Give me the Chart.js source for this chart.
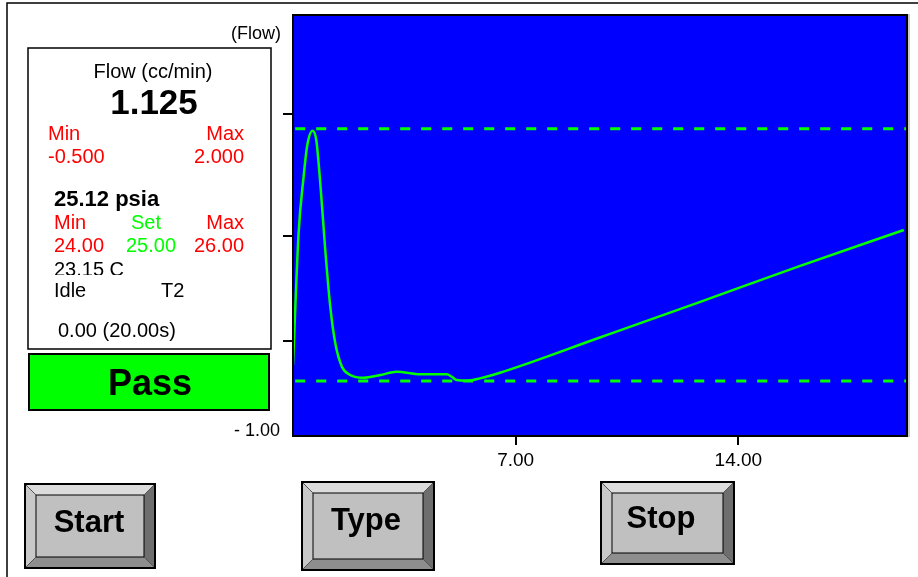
<!DOCTYPE html>
<html>
<head>
<meta charset="utf-8">
<script src="https://cdn.jsdelivr.net/npm/chart.js@4"></script>
<style>
  html, body { margin: 0; padding: 0; background: #fff; }
  canvas { display: block; }
</style>
</head>
<body>
<canvas id="flowChart" width="918" height="577" style="width:918px;height:577px"></canvas>
<script>
// flow trace (time in s, flow in cc/min)
const timeS = [0, 0.176, 0.333, 0.449, 0.615, 0.731, 0.857, 1.014, 1.171, 1.328, 1.538, 1.798,
  2.216, 2.740, 3.264, 3.996, 4.834, 4.991, 5.148, 5.461, 5.879, 6.507, 9.645, 12.78, 15.92, 19.20];
const flowCc = [-0.342, 0.966, 1.524, 1.838, 1.980, 1.888, 1.462, 0.798, 0.236, -0.124, -0.359, -0.441,
  -0.468, -0.441, -0.408, -0.434, -0.434, -0.458, -0.491, -0.498, -0.474, -0.418, -0.069, 0.282, 0.639, 0.996];

const flowMin = -0.5;
const flowMax = 2.0;
const limitSpan = [0.07, 19.3];

const xRange = [0, 19.3];
const xTickValues = [7, 14];
const yRange = [-1.045, 3.127];
const yTickValues = [-1.045, -0.104, 0.936, 2.145];
const yTickLabels = ["- 1.00", "", "", ""];

const flowReading = "1.125";
const pressureReading = "25.12 psia";
const pressureLimits = ["24.00", "25.00", "26.00"];
const buttonLabels = ["Start", "Type", "Stop"];

const FONT = "'Liberation Sans', Arial, sans-serif";

function txt(ctx, s, x, y, size, color, align, bold) {
  ctx.font = (bold ? "bold " : "") + size + "px " + FONT;
  ctx.fillStyle = color;
  ctx.textAlign = align || "left";
  ctx.textBaseline = "middle";
  ctx.fillText(s, x, y);
}

function poly(ctx, pts, fill) {
  ctx.beginPath();
  ctx.moveTo(pts[0][0], pts[0][1]);
  for (let i = 1; i < pts.length; i++) ctx.lineTo(pts[i][0], pts[i][1]);
  ctx.closePath();
  ctx.fillStyle = fill;
  ctx.fill();
}

function bevelButton(ctx, x0, y0, x1, y1, label, tx, ty) {
  const b = 11;
  poly(ctx, [[x0, y0], [x1, y0], [x1 - b, y0 + b], [x0 + b, y0 + b]], "#dcdcdc");
  poly(ctx, [[x0, y0], [x0 + b, y0 + b], [x0 + b, y1 - b], [x0, y1]], "#c8c8c8");
  poly(ctx, [[x1, y0], [x1, y1], [x1 - b, y1 - b], [x1 - b, y0 + b]], "#6e6e6e");
  poly(ctx, [[x0, y1], [x0 + b, y1 - b], [x1 - b, y1 - b], [x1, y1]], "#8e8e8e");
  ctx.fillStyle = "#c0c0c0";
  ctx.fillRect(x0 + b, y0 + b, x1 - x0 - 2 * b, y1 - y0 - 2 * b);
  ctx.strokeStyle = "#000";
  ctx.lineWidth = 1;
  ctx.strokeRect(x0 + b, y0 + b, x1 - x0 - 2 * b, y1 - y0 - 2 * b);
  ctx.beginPath();
  ctx.moveTo(x0, y0); ctx.lineTo(x0 + b, y0 + b);
  ctx.moveTo(x1, y0); ctx.lineTo(x1 - b, y0 + b);
  ctx.moveTo(x0, y1); ctx.lineTo(x0 + b, y1 - b);
  ctx.moveTo(x1, y1); ctx.lineTo(x1 - b, y1 - b);
  ctx.strokeStyle = "#555";
  ctx.stroke();
  ctx.lineWidth = 2;
  ctx.strokeStyle = "#000";
  ctx.strokeRect(x0, y0, x1 - x0, y1 - y0);
  txt(ctx, label, tx, ty, 31, "#000", "center", true);
}

const screenPlugin = {
  id: "screen",
  beforeDraw(chart) {
    const ctx = chart.ctx;
    const a = chart.chartArea;
    ctx.save();
    ctx.fillStyle = "#fff";
    ctx.fillRect(0, 0, chart.width, chart.height);
    ctx.fillStyle = "#0000ff";
    ctx.fillRect(a.left, a.top, a.right - a.left, a.bottom - a.top);
    ctx.restore();
  },
  afterDraw(chart) {
    const ctx = chart.ctx;
    const a = chart.chartArea;
    ctx.save();
    // plot frame
    ctx.strokeStyle = "#999";
    ctx.lineWidth = 1;
    ctx.beginPath();
    ctx.moveTo(a.right + 2, a.top - 1);
    ctx.lineTo(a.right + 2, a.bottom + 1);
    ctx.stroke();
    ctx.strokeStyle = "#000";
    ctx.lineWidth = 2;
    ctx.strokeRect(a.left, a.top, a.right - a.left, a.bottom - a.top);

    // outer frame
    ctx.lineWidth = 1.5;
    ctx.beginPath();
    ctx.moveTo(7, 577);
    ctx.lineTo(7, 3);
    ctx.lineTo(918, 3);
    ctx.stroke();

    txt(ctx, "(Flow)", 281, 34, 18, "#000", "right");

    // readout panel
    ctx.fillStyle = "#fff";
    ctx.fillRect(28, 48, 243, 301);
    ctx.lineWidth = 1.5;
    ctx.strokeStyle = "#000";
    ctx.strokeRect(28, 48, 243, 301);

    txt(ctx, "Flow (cc/min)", 153, 72, 20, "#000", "center");
    txt(ctx, flowReading, 154, 104, 35, "#000", "center", true);
    txt(ctx, "Min", 48, 134, 20, "#ff0000", "left");
    txt(ctx, "Max", 244, 134, 20, "#ff0000", "right");
    txt(ctx, flowMin.toFixed(3), 48, 157, 20, "#ff0000", "left");
    txt(ctx, flowMax.toFixed(3), 244, 157, 20, "#ff0000", "right");

    txt(ctx, pressureReading, 54, 200, 22, "#000", "left", true);
    txt(ctx, "Min", 54, 223, 20, "#ff0000", "left");
    txt(ctx, "Set", 146, 223, 20, "#00ff00", "center");
    txt(ctx, "Max", 244, 223, 20, "#ff0000", "right");
    txt(ctx, pressureLimits[0], 54, 246, 20, "#ff0000", "left");
    txt(ctx, pressureLimits[1], 151, 246, 20, "#00ff00", "center");
    txt(ctx, pressureLimits[2], 244, 246, 20, "#ff0000", "right");

    ctx.save();
    ctx.beginPath();
    ctx.rect(30, 255, 230, 20);
    ctx.clip();
    txt(ctx, "23.15 C", 54, 270, 20, "#000", "left");
    ctx.restore();
    txt(ctx, "Idle", 54, 291, 20, "#000", "left");
    txt(ctx, "T2", 161, 291, 20, "#000", "left");
    txt(ctx, "0.00 (20.00s)", 58, 331, 20, "#000", "left");

    // pass box
    ctx.fillStyle = "#00ff00";
    ctx.fillRect(29, 354, 240, 56);
    ctx.lineWidth = 2;
    ctx.strokeStyle = "#000";
    ctx.strokeRect(29, 354, 240, 56);
    txt(ctx, "Pass", 150, 385, 36, "#000", "center", true);

    // buttons
    bevelButton(ctx, 25, 484, 155, 568, buttonLabels[0], 89, 523);
    bevelButton(ctx, 302, 482, 434, 570, buttonLabels[1], 366, 521);
    bevelButton(ctx, 601, 482, 734, 564, buttonLabels[2], 661, 519);
    ctx.restore();
  },
};

const flowData = timeS.map((t, i) => ({ x: t, y: flowCc[i] }));

const config = {
  type: "line",
  data: {
    datasets: [
      {
        label: "Max",
        data: limitSpan.map((t) => ({ x: t, y: flowMax })),
        borderColor: "#00ff00",
        borderWidth: 3,
        borderDash: [10, 11],
        pointRadius: 0,
      },
      {
        label: "Min",
        data: limitSpan.map((t) => ({ x: t, y: flowMin })),
        borderColor: "#00ff00",
        borderWidth: 3,
        borderDash: [10, 11],
        pointRadius: 0,
      },
      {
        label: "Flow",
        data: flowData,
        borderColor: "#00ff00",
        borderWidth: 2.5,
        pointRadius: 0,
        cubicInterpolationMode: "monotone",
      },
    ],
  },
  plugins: [screenPlugin],
  options: {
    responsive: false,
    animation: false,
    devicePixelRatio: 1,
    layout: { padding: { left: 0, top: 15, right: 11, bottom: 0 } },
    scales: {
      x: {
        type: "linear",
        min: xRange[0],
        max: xRange[1],
        afterFit: (s) => { s.height = 141; },
        afterBuildTicks: (s) => { s.ticks = xTickValues.map((v) => ({ value: v })); },
        ticks: {
          callback: (v) => Number(v).toFixed(2),
          color: "#000",
          font: { family: FONT, size: 19 },
          padding: 4,
          autoSkip: false,
          maxRotation: 0,
        },
        grid: { drawOnChartArea: false, drawTicks: true, tickLength: 9, color: "#000", lineWidth: 2 },
        border: { color: "#000", width: 2 },
      },
      y: {
        type: "linear",
        min: yRange[0],
        max: yRange[1],
        afterFit: (s) => { s.width = 293; },
        afterBuildTicks: (s) => { s.ticks = yTickValues.map((v) => ({ value: v })); },
        ticks: {
          callback: (v, i) => yTickLabels[i],
          color: "#000",
          font: { family: FONT, size: 18 },
          padding: 3,
          labelOffset: -5,
          autoSkip: false,
        },
        grid: {
          drawOnChartArea: false,
          drawTicks: true,
          tickLength: 10,
          color: (c) => (c.index === 0 ? "rgba(0,0,0,0)" : "#000"),
          lineWidth: 2,
        },
        border: { color: "#000", width: 2 },
      },
    },
    plugins: {
      legend: { display: false },
      tooltip: { enabled: false },
    },
  },
};

new Chart(document.getElementById("flowChart"), config);
</script>
</body>
</html>
